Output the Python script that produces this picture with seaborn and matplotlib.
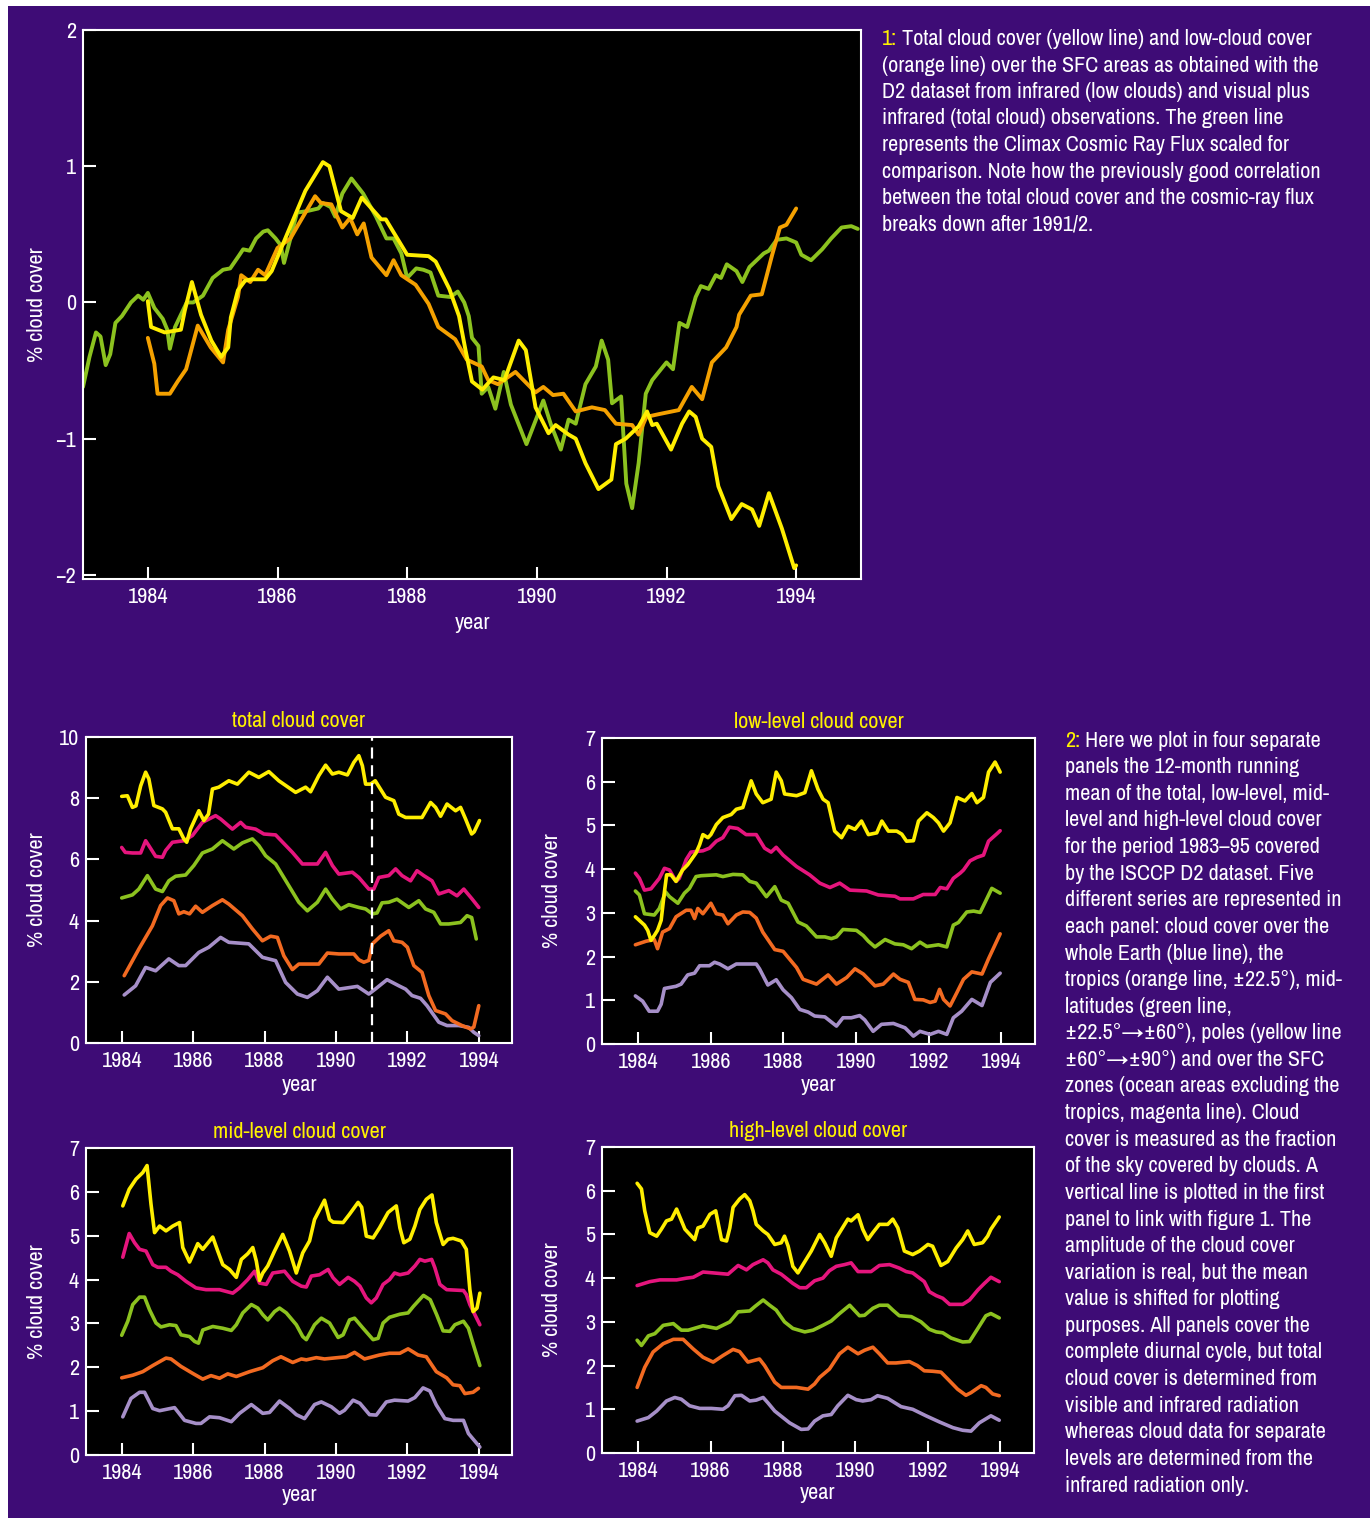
import matplotlib
matplotlib.use("Agg")
import matplotlib.pyplot as plt
from matplotlib.patches import Rectangle
import pandas as pd
import seaborn as sns

# --- figure 1: deviations (% cloud cover), pairs of (year, value) ---
cosmic_flux = [(1983.0, -0.62), (1983.1, -0.4), (1983.2, -0.22), (1983.27, -0.25), (1983.35, -0.46),
               (1983.42, -0.38), (1983.5, -0.15), (1983.6, -0.1), (1983.74, 0.0), (1983.85, 0.05),
               (1983.93, 0.02), (1984.0, 0.07), (1984.1, -0.04), (1984.23, -0.12), (1984.3, -0.2),
               (1984.34, -0.34), (1984.42, -0.18), (1984.6, 0.0), (1984.7, 0.0), (1984.85, 0.05),
               (1985.0, 0.18), (1985.16, 0.24), (1985.27, 0.25), (1985.4, 0.34), (1985.47, 0.39),
               (1985.57, 0.38), (1985.67, 0.47), (1985.78, 0.52), (1985.85, 0.53), (1985.97, 0.47),
               (1986.05, 0.42), (1986.1, 0.29), (1986.2, 0.47), (1986.3, 0.66), (1986.45, 0.67),
               (1986.63, 0.69), (1986.7, 0.73), (1986.82, 0.7), (1986.89, 0.63), (1987.0, 0.8),
               (1987.14, 0.91), (1987.32, 0.8), (1987.52, 0.63), (1987.68, 0.47), (1987.79, 0.47),
               (1987.91, 0.36), (1988.0, 0.18), (1988.14, 0.25), (1988.25, 0.24), (1988.36, 0.22),
               (1988.48, 0.05), (1988.67, 0.04), (1988.78, 0.08), (1988.88, 0.0), (1988.95, -0.1),
               (1989.0, -0.26), (1989.1, -0.32), (1989.15, -0.67), (1989.25, -0.62), (1989.36, -0.78),
               (1989.49, -0.51), (1989.6, -0.75), (1989.84, -1.04), (1990.1, -0.72), (1990.22, -0.9),
               (1990.37, -1.08), (1990.49, -0.86), (1990.6, -0.89), (1990.75, -0.6), (1990.91, -0.47),
               (1991.0, -0.28), (1991.1, -0.42), (1991.16, -0.74), (1991.3, -0.69), (1991.38, -1.33),
               (1991.47, -1.51), (1991.57, -1.18), (1991.68, -0.67), (1991.78, -0.57), (1992.0, -0.44),
               (1992.1, -0.49), (1992.2, -0.15), (1992.32, -0.18), (1992.45, 0.04), (1992.53, 0.12),
               (1992.65, 0.1), (1992.76, 0.2), (1992.84, 0.18), (1992.93, 0.28), (1993.08, 0.23),
               (1993.17, 0.15), (1993.28, 0.26), (1993.5, 0.36), (1993.58, 0.38), (1993.7, 0.46),
               (1993.85, 0.47), (1994.0, 0.44), (1994.08, 0.35), (1994.23, 0.31), (1994.4, 0.39),
               (1994.54, 0.47), (1994.7, 0.55), (1994.85, 0.56), (1994.95, 0.54)]

low_cloud = [(1984.0, -0.26), (1984.1, -0.45), (1984.15, -0.67), (1984.34, -0.67), (1984.46, -0.58),
             (1984.59, -0.49), (1984.77, -0.17), (1984.97, -0.33), (1985.16, -0.44), (1985.24, -0.2),
             (1985.39, 0.04), (1985.44, 0.2), (1985.58, 0.15), (1985.7, 0.24), (1985.81, 0.2),
             (1986.0, 0.4), (1986.2, 0.47), (1986.32, 0.57), (1986.58, 0.78), (1986.67, 0.73),
             (1986.83, 0.72), (1987.0, 0.55), (1987.12, 0.62), (1987.23, 0.5), (1987.33, 0.58),
             (1987.45, 0.33), (1987.68, 0.2), (1987.79, 0.31), (1987.91, 0.2), (1988.13, 0.13),
             (1988.33, -0.01), (1988.48, -0.18), (1988.74, -0.27), (1988.92, -0.42), (1989.15, -0.47),
             (1989.25, -0.57), (1989.4, -0.6), (1989.67, -0.51), (1989.98, -0.66), (1990.1, -0.62),
             (1990.25, -0.68), (1990.41, -0.67), (1990.6, -0.8), (1990.85, -0.77), (1991.05, -0.79),
             (1991.22, -0.89), (1991.47, -0.9), (1991.57, -0.97), (1991.69, -0.84), (1991.88, -0.82),
             (1992.19, -0.79), (1992.39, -0.62), (1992.55, -0.71), (1992.7, -0.44), (1992.92, -0.33),
             (1993.08, -0.18), (1993.12, -0.09), (1993.3, 0.05), (1993.47, 0.06), (1993.63, 0.35),
             (1993.75, 0.55), (1993.85, 0.57), (1994.0, 0.69)]

total_cloud = [(1984.0, 0.01), (1984.05, -0.18), (1984.26, -0.22), (1984.51, -0.2), (1984.57, -0.06),
               (1984.68, 0.15), (1984.82, -0.09), (1984.98, -0.28), (1985.13, -0.4), (1985.24, -0.33),
               (1985.28, -0.11), (1985.39, 0.09), (1985.5, 0.16), (1985.6, 0.17), (1985.81, 0.17),
               (1985.91, 0.23), (1986.12, 0.47), (1986.43, 0.82), (1986.7, 1.03), (1986.8, 1.0),
               (1986.98, 0.67), (1987.16, 0.62), (1987.3, 0.77), (1987.6, 0.61), (1987.67, 0.61),
               (1988.0, 0.35), (1988.33, 0.34), (1988.44, 0.3), (1988.65, 0.1), (1988.8, -0.1),
               (1988.9, -0.35), (1989.0, -0.58), (1989.16, -0.64), (1989.33, -0.55), (1989.5, -0.57),
               (1989.72, -0.28), (1989.83, -0.35), (1989.98, -0.77), (1990.18, -0.96), (1990.29, -0.9),
               (1990.49, -0.97), (1990.6, -1.0), (1990.75, -1.18), (1990.95, -1.37), (1991.15, -1.3),
               (1991.22, -1.04), (1991.37, -1.0), (1991.57, -0.91), (1991.7, -0.8), (1991.78, -0.9),
               (1991.85, -0.89), (1992.07, -1.08), (1992.24, -0.89), (1992.35, -0.8), (1992.45, -0.84),
               (1992.55, -1.0), (1992.69, -1.06), (1992.8, -1.35), (1993.0, -1.59), (1993.16, -1.48),
               (1993.32, -1.52), (1993.43, -1.64), (1993.58, -1.4), (1993.78, -1.66), (1993.97, -1.95),
               (1994.0, -1.93)]

# --- figure 2: 12-month running means, one list per region ---
total_earth = [(1984.07, 1.57), (1984.39, 1.87), (1984.67, 2.47), (1984.95, 2.36), (1985.32, 2.75),
               (1985.6, 2.53), (1985.79, 2.53), (1986.16, 2.96), (1986.44, 3.13), (1986.77, 3.45),
               (1987.0, 3.29), (1987.56, 3.24), (1987.94, 2.8), (1988.31, 2.69), (1988.59, 1.98),
               (1988.92, 1.6), (1989.2, 1.49), (1989.48, 1.71), (1989.76, 2.15), (1990.08, 1.76),
               (1990.6, 1.85), (1990.92, 1.6), (1991.1, 1.76), (1991.43, 2.07), (1991.76, 1.87),
               (1991.95, 1.76), (1992.13, 1.55), (1992.37, 1.46), (1992.55, 1.22), (1992.88, 0.68),
               (1993.11, 0.57), (1993.44, 0.57), (1993.72, 0.51), (1993.86, 0.35), (1994.0, 0.24)]
total_tropics = [(1984.07, 2.2), (1984.48, 3.07), (1984.86, 3.83), (1985.09, 4.49), (1985.28, 4.74),
                 (1985.46, 4.65), (1985.6, 4.22), (1985.74, 4.29), (1985.9, 4.22), (1986.07, 4.47),
                 (1986.26, 4.27), (1986.54, 4.49), (1986.82, 4.68), (1987.0, 4.54), (1987.38, 4.16),
                 (1987.66, 3.73), (1987.94, 3.34), (1988.17, 3.49), (1988.36, 3.45), (1988.54, 2.85),
                 (1988.78, 2.4), (1988.96, 2.58), (1989.52, 2.58), (1989.76, 2.94), (1990.08, 2.91),
                 (1990.5, 2.91), (1990.64, 2.72), (1990.78, 2.64), (1990.92, 2.7), (1991.02, 3.24),
                 (1991.25, 3.49), (1991.48, 3.67), (1991.62, 3.34), (1991.85, 3.29), (1992.0, 3.13),
                 (1992.18, 2.53), (1992.41, 2.31), (1992.6, 1.55), (1992.79, 1.06), (1993.07, 0.95),
                 (1993.25, 0.73), (1993.53, 0.57), (1993.77, 0.46), (1993.86, 0.52), (1994.0, 1.22)]
total_midlat = [(1984.0, 4.74), (1984.3, 4.84), (1984.48, 5.03), (1984.72, 5.47), (1984.95, 5.03),
                (1985.14, 4.95), (1985.32, 5.3), (1985.51, 5.45), (1985.79, 5.49), (1986.02, 5.8),
                (1986.26, 6.21), (1986.54, 6.34), (1986.82, 6.61), (1987.14, 6.34), (1987.38, 6.54),
                (1987.66, 6.67), (1987.84, 6.45), (1988.03, 6.12), (1988.31, 5.85), (1988.68, 5.14),
                (1988.96, 4.6), (1989.2, 4.32), (1989.48, 4.6), (1989.71, 5.03), (1989.9, 4.7),
                (1990.13, 4.38), (1990.36, 4.52), (1990.64, 4.43), (1990.83, 4.38), (1991.02, 4.22),
                (1991.15, 4.25), (1991.29, 4.58), (1991.48, 4.6), (1991.71, 4.7), (1992.04, 4.43),
                (1992.32, 4.65), (1992.51, 4.38), (1992.74, 4.27), (1992.93, 3.89), (1993.16, 3.89),
                (1993.49, 3.94), (1993.67, 4.16), (1993.8, 4.1), (1993.93, 3.4)]
total_sfc = [(1984.0, 6.39), (1984.1, 6.23), (1984.3, 6.21), (1984.53, 6.21), (1984.67, 6.61),
             (1984.76, 6.45), (1984.95, 6.1), (1985.14, 6.07), (1985.23, 6.29), (1985.42, 6.56),
             (1985.74, 6.61), (1985.98, 6.78), (1986.26, 7.21), (1986.63, 7.43), (1986.77, 7.32),
             (1987.1, 6.99), (1987.33, 7.21), (1987.47, 7.05), (1987.75, 6.99), (1987.98, 6.83),
             (1988.31, 6.8), (1988.78, 6.23), (1989.06, 5.85), (1989.48, 5.85), (1989.71, 6.23),
             (1989.9, 5.8), (1990.08, 5.52), (1990.46, 5.58), (1990.64, 5.41), (1990.92, 5.03),
             (1991.06, 5.03), (1991.2, 5.41), (1991.48, 5.47), (1991.67, 5.69), (1991.85, 5.47),
             (1992.09, 5.3), (1992.27, 5.63), (1992.46, 5.47), (1992.69, 5.3), (1992.88, 4.87),
             (1993.16, 4.98), (1993.39, 4.81), (1993.58, 5.03), (1993.81, 4.71), (1994.0, 4.43)]
total_poles = [(1984.0, 8.06), (1984.16, 8.08), (1984.3, 7.7), (1984.4, 7.75), (1984.53, 8.4),
               (1984.67, 8.85), (1984.76, 8.63), (1984.9, 7.76), (1985.14, 7.65), (1985.23, 7.54),
               (1985.42, 7.0), (1985.6, 7.0), (1985.74, 6.67), (1985.82, 6.56), (1985.93, 7.0),
               (1986.16, 7.59), (1986.3, 7.27), (1986.43, 7.48), (1986.54, 8.3), (1986.72, 8.36),
               (1987.0, 8.57), (1987.24, 8.46), (1987.56, 8.85), (1987.84, 8.68), (1988.12, 8.87),
               (1988.4, 8.57), (1988.87, 8.19), (1989.15, 8.36), (1989.29, 8.21), (1989.52, 8.74),
               (1989.71, 9.08), (1989.9, 8.79), (1990.08, 8.85), (1990.32, 8.76), (1990.5, 9.17),
               (1990.64, 9.39), (1990.74, 9.06), (1990.83, 8.46), (1990.97, 8.46), (1991.1, 8.57),
               (1991.39, 8.03), (1991.62, 7.92), (1991.76, 7.48), (1991.95, 7.37), (1992.41, 7.37),
               (1992.65, 7.86), (1992.79, 7.7), (1992.93, 7.41), (1993.11, 7.81), (1993.35, 7.59),
               (1993.49, 7.7), (1993.63, 7.32), (1993.8, 6.83), (1993.87, 6.9), (1994.02, 7.27)]

low_earth = [(1983.92, 1.1), (1984.12, 0.98), (1984.3, 0.75), (1984.53, 0.75), (1984.63, 0.91),
             (1984.72, 1.27), (1985.04, 1.32), (1985.18, 1.37), (1985.36, 1.58), (1985.55, 1.62),
             (1985.69, 1.79), (1985.96, 1.79), (1986.1, 1.87), (1986.24, 1.83), (1986.47, 1.72),
             (1986.7, 1.83), (1987.25, 1.83), (1987.34, 1.72), (1987.57, 1.35), (1987.8, 1.47),
             (1987.99, 1.24), (1988.22, 1.06), (1988.45, 0.79), (1988.68, 0.73), (1988.86, 0.64),
             (1989.14, 0.62), (1989.46, 0.41), (1989.64, 0.6), (1989.87, 0.6), (1990.1, 0.65),
             (1990.24, 0.55), (1990.47, 0.29), (1990.7, 0.45), (1991.03, 0.47), (1991.35, 0.37),
             (1991.58, 0.18), (1991.76, 0.29), (1992.04, 0.22), (1992.27, 0.29), (1992.5, 0.22),
             (1992.68, 0.6), (1992.91, 0.75), (1993.19, 1.02), (1993.47, 0.88), (1993.7, 1.41),
             (1993.97, 1.62)]
low_tropics = [(1983.92, 2.27), (1984.21, 2.35), (1984.44, 2.39), (1984.53, 2.18), (1984.67, 2.56),
               (1984.86, 2.64), (1985.04, 2.91), (1985.32, 3.06), (1985.45, 3.06), (1985.55, 2.87),
               (1985.64, 3.1), (1985.78, 2.98), (1986.0, 3.22), (1986.15, 2.98), (1986.33, 2.95),
               (1986.47, 2.75), (1986.7, 2.95), (1986.88, 3.02), (1987.07, 3.01), (1987.25, 2.88),
               (1987.43, 2.56), (1987.76, 2.16), (1987.99, 2.12), (1988.36, 1.75), (1988.54, 1.48),
               (1988.91, 1.37), (1989.23, 1.58), (1989.46, 1.37), (1989.74, 1.52), (1989.97, 1.72),
               (1990.2, 1.6), (1990.52, 1.33), (1990.75, 1.37), (1991.03, 1.6), (1991.21, 1.48),
               (1991.44, 1.41), (1991.62, 1.02), (1991.85, 1.01), (1992.04, 0.95), (1992.18, 0.98),
               (1992.3, 1.25), (1992.41, 1.02), (1992.59, 0.87), (1992.78, 1.18), (1992.96, 1.48),
               (1993.19, 1.65), (1993.47, 1.6), (1993.65, 1.95), (1993.97, 2.52)]
low_midlat = [(1983.92, 3.5), (1984.03, 3.41), (1984.17, 2.98), (1984.44, 2.95), (1984.58, 3.1),
              (1984.75, 3.48), (1984.86, 3.37), (1985.09, 3.22), (1985.27, 3.45), (1985.41, 3.56),
              (1985.59, 3.83), (1985.73, 3.85), (1986.15, 3.87), (1986.33, 3.83), (1986.61, 3.88),
              (1986.88, 3.87), (1987.07, 3.72), (1987.25, 3.68), (1987.53, 3.37), (1987.76, 3.6),
              (1987.94, 3.29), (1988.13, 3.22), (1988.4, 2.79), (1988.63, 2.7), (1988.91, 2.45),
              (1989.14, 2.45), (1989.32, 2.41), (1989.46, 2.45), (1989.64, 2.62), (1990.01, 2.6),
              (1990.2, 2.48), (1990.34, 2.35), (1990.52, 2.22), (1990.8, 2.39), (1991.07, 2.29),
              (1991.3, 2.27), (1991.53, 2.18), (1991.76, 2.33), (1991.95, 2.23), (1992.27, 2.27),
              (1992.5, 2.22), (1992.68, 2.72), (1992.82, 2.78), (1993.05, 3.02), (1993.24, 3.04),
              (1993.42, 3.01), (1993.56, 3.25), (1993.74, 3.56), (1993.97, 3.45)]
low_sfc = [(1983.92, 3.91), (1984.03, 3.79), (1984.17, 3.52), (1984.35, 3.55), (1984.58, 3.79),
           (1984.72, 4.02), (1984.86, 3.98), (1985.04, 3.72), (1985.13, 3.79), (1985.32, 4.22),
           (1985.45, 4.39), (1985.78, 4.42), (1985.96, 4.48), (1986.15, 4.64), (1986.33, 4.72),
           (1986.51, 4.96), (1986.74, 4.93), (1986.97, 4.79), (1987.25, 4.79), (1987.48, 4.48),
           (1987.66, 4.39), (1987.8, 4.5), (1987.99, 4.32), (1988.36, 4.06), (1988.72, 3.87),
           (1989.0, 3.68), (1989.28, 3.58), (1989.55, 3.68), (1989.83, 3.52), (1990.29, 3.5),
           (1990.61, 3.41), (1991.07, 3.38), (1991.21, 3.32), (1991.58, 3.32), (1991.85, 3.42),
           (1992.18, 3.42), (1992.32, 3.58), (1992.5, 3.55), (1992.68, 3.79), (1992.87, 3.91),
           (1992.96, 3.98), (1993.14, 4.19), (1993.33, 4.27), (1993.51, 4.32), (1993.65, 4.64),
           (1993.88, 4.81), (1993.97, 4.88)]
low_poles = [(1983.92, 2.91), (1984.17, 2.72), (1984.26, 2.6), (1984.35, 2.37), (1984.44, 2.48),
             (1984.53, 2.6), (1984.63, 2.83), (1984.72, 3.48), (1984.78, 3.87), (1984.9, 3.87),
             (1985.04, 3.72), (1985.22, 3.98), (1985.36, 4.1), (1985.59, 4.37), (1985.69, 4.56),
             (1985.78, 4.79), (1985.92, 4.72), (1986.0, 4.79), (1986.15, 5.02), (1986.33, 5.18),
             (1986.56, 5.25), (1986.7, 5.37), (1986.88, 5.41), (1987.11, 6.02), (1987.25, 5.72),
             (1987.43, 5.52), (1987.66, 5.6), (1987.8, 6.22), (1987.94, 6.02), (1988.03, 5.72),
             (1988.36, 5.68), (1988.59, 5.75), (1988.77, 6.25), (1988.95, 5.83), (1989.09, 5.6),
             (1989.23, 5.52), (1989.41, 4.87), (1989.6, 4.72), (1989.78, 4.98), (1989.97, 4.91),
             (1990.15, 5.1), (1990.34, 4.79), (1990.57, 4.83), (1990.71, 5.1), (1990.89, 4.87),
             (1991.12, 4.87), (1991.26, 4.8), (1991.39, 4.64), (1991.58, 4.65), (1991.72, 5.1),
             (1991.95, 5.29), (1992.13, 5.18), (1992.27, 5.06), (1992.41, 4.87), (1992.59, 5.06),
             (1992.78, 5.64), (1993.0, 5.56), (1993.19, 5.73), (1993.33, 5.52), (1993.51, 5.64),
             (1993.65, 6.22), (1993.83, 6.45), (1993.97, 6.22)]

mid_earth = [(1984.03, 0.87), (1984.26, 1.29), (1984.5, 1.43), (1984.64, 1.43), (1984.87, 1.06),
             (1985.06, 1.01), (1985.48, 1.08), (1985.76, 0.79), (1986.08, 0.72), (1986.22, 0.72),
             (1986.46, 0.87), (1986.74, 0.85), (1987.07, 0.76), (1987.3, 0.95), (1987.63, 1.15),
             (1987.95, 0.95), (1988.14, 0.97), (1988.42, 1.23), (1988.7, 1.06), (1988.89, 0.92),
             (1989.12, 0.83), (1989.4, 1.15), (1989.59, 1.21), (1989.87, 1.1), (1990.1, 0.95),
             (1990.24, 1.02), (1990.48, 1.25), (1990.67, 1.18), (1990.94, 0.92), (1991.13, 0.91),
             (1991.41, 1.21), (1991.64, 1.25), (1992.02, 1.23), (1992.21, 1.31), (1992.44, 1.53),
             (1992.63, 1.46), (1992.81, 1.14), (1993.05, 0.83), (1993.28, 0.79), (1993.57, 0.79),
             (1993.71, 0.49), (1994.03, 0.18)]
mid_tropics = [(1984.0, 1.76), (1984.31, 1.82), (1984.59, 1.9), (1984.87, 2.04), (1985.24, 2.21),
               (1985.38, 2.19), (1985.66, 2.02), (1985.99, 1.86), (1986.27, 1.73), (1986.5, 1.81),
               (1986.74, 1.75), (1986.97, 1.85), (1987.21, 1.79), (1987.58, 1.9), (1987.95, 1.99),
               (1988.23, 2.15), (1988.46, 2.24), (1988.79, 2.11), (1989.03, 2.19), (1989.17, 2.17),
               (1989.45, 2.22), (1989.68, 2.19), (1990.29, 2.24), (1990.52, 2.34), (1990.8, 2.19),
               (1991.22, 2.28), (1991.5, 2.32), (1991.79, 2.32), (1992.02, 2.42), (1992.3, 2.28),
               (1992.53, 2.24), (1992.81, 1.9), (1993.1, 1.76), (1993.28, 1.6), (1993.47, 1.58),
               (1993.61, 1.4), (1993.84, 1.43), (1993.99, 1.52)]
mid_midlat = [(1984.0, 2.73), (1984.17, 3.05), (1984.31, 3.43), (1984.5, 3.6), (1984.64, 3.6),
              (1984.78, 3.31), (1984.96, 3.01), (1985.1, 2.92), (1985.34, 2.97), (1985.52, 2.95),
              (1985.66, 2.74), (1985.9, 2.7), (1986.04, 2.59), (1986.15, 2.55), (1986.27, 2.85),
              (1986.55, 2.93), (1986.83, 2.89), (1987.07, 2.84), (1987.21, 2.97), (1987.39, 3.24),
              (1987.63, 3.43), (1987.81, 3.35), (1987.95, 3.2), (1988.09, 3.08), (1988.28, 3.27),
              (1988.42, 3.35), (1988.61, 3.24), (1988.89, 2.97), (1989.07, 2.7), (1989.17, 2.63),
              (1989.4, 2.97), (1989.59, 3.12), (1989.82, 3.01), (1990.06, 2.68), (1990.2, 2.74),
              (1990.38, 3.08), (1990.52, 3.12), (1990.76, 2.89), (1991.04, 2.63), (1991.18, 2.66),
              (1991.32, 3.01), (1991.5, 3.14), (1991.79, 3.21), (1992.02, 3.24), (1992.17, 3.39),
              (1992.45, 3.64), (1992.64, 3.54), (1992.82, 3.2), (1993.0, 2.83), (1993.19, 2.82),
              (1993.33, 2.97), (1993.57, 3.05), (1993.71, 2.89), (1993.85, 2.51), (1994.03, 2.04)]
mid_sfc = [(1984.03, 4.51), (1984.21, 5.05), (1984.36, 4.84), (1984.5, 4.69), (1984.68, 4.65),
           (1984.87, 4.34), (1985.01, 4.28), (1985.24, 4.28), (1985.38, 4.19), (1985.57, 4.11),
           (1985.8, 3.96), (1986.08, 3.81), (1986.36, 3.77), (1986.74, 3.77), (1987.11, 3.69),
           (1987.3, 3.81), (1987.53, 4.0), (1987.72, 4.19), (1987.86, 3.92), (1988.05, 3.89),
           (1988.23, 4.15), (1988.56, 4.19), (1988.79, 3.96), (1989.03, 3.85), (1989.17, 3.83),
           (1989.31, 4.08), (1989.54, 4.11), (1989.78, 4.23), (1989.92, 4.04), (1990.1, 3.89),
           (1990.34, 4.05), (1990.52, 3.96), (1990.67, 3.85), (1990.85, 3.58), (1990.99, 3.47),
           (1991.13, 3.58), (1991.32, 3.89), (1991.5, 4.0), (1991.64, 4.15), (1991.79, 4.11),
           (1992.02, 4.15), (1992.21, 4.31), (1992.35, 4.46), (1992.49, 4.42), (1992.68, 4.46),
           (1992.77, 4.27), (1992.91, 3.89), (1993.1, 3.77), (1993.57, 3.75), (1993.65, 3.66),
           (1993.75, 3.43), (1994.03, 2.97)]
mid_poles = [(1984.03, 5.68), (1984.21, 6.06), (1984.4, 6.29), (1984.59, 6.44), (1984.71, 6.6),
             (1984.82, 5.72), (1984.92, 5.07), (1985.06, 5.22), (1985.24, 5.11), (1985.43, 5.22),
             (1985.62, 5.3), (1985.71, 4.73), (1985.9, 4.4), (1986.04, 4.65), (1986.13, 4.82),
             (1986.27, 4.69), (1986.55, 4.97), (1986.69, 4.65), (1986.83, 4.34), (1987.02, 4.23),
             (1987.21, 4.05), (1987.35, 4.46), (1987.53, 4.59), (1987.67, 4.73), (1987.77, 4.42),
             (1987.86, 3.98), (1987.95, 4.15), (1988.09, 4.31), (1988.28, 4.65), (1988.51, 5.03),
             (1988.7, 4.65), (1988.89, 4.15), (1989.07, 4.61), (1989.26, 4.88), (1989.4, 5.37),
             (1989.68, 5.81), (1989.82, 5.37), (1989.92, 5.31), (1990.2, 5.3), (1990.38, 5.49),
             (1990.62, 5.76), (1990.72, 5.65), (1990.85, 4.99), (1991.04, 4.95), (1991.22, 5.18),
             (1991.46, 5.53), (1991.69, 5.68), (1991.79, 5.18), (1991.9, 4.84), (1992.07, 4.92),
             (1992.21, 5.22), (1992.35, 5.6), (1992.53, 5.83), (1992.69, 5.93), (1992.81, 5.3),
             (1993.0, 4.8), (1993.14, 4.92), (1993.28, 4.94), (1993.51, 4.88), (1993.65, 4.69),
             (1993.75, 3.77), (1993.84, 3.27), (1993.95, 3.35), (1994.03, 3.69)]

high_earth = [(1983.97, 0.73), (1984.28, 0.81), (1984.51, 0.96), (1984.78, 1.19), (1985.01, 1.27),
              (1985.19, 1.23), (1985.42, 1.08), (1985.7, 1.02), (1986.02, 1.02), (1986.34, 1.0),
              (1986.48, 1.08), (1986.67, 1.31), (1986.85, 1.32), (1987.08, 1.19), (1987.26, 1.21),
              (1987.45, 1.27), (1987.58, 1.15), (1987.77, 0.96), (1988.18, 0.69), (1988.5, 0.54),
              (1988.69, 0.55), (1988.87, 0.73), (1989.1, 0.85), (1989.33, 0.88), (1989.51, 1.08),
              (1989.79, 1.32), (1990.02, 1.22), (1990.2, 1.19), (1990.43, 1.22), (1990.61, 1.31),
              (1990.89, 1.25), (1991.26, 1.06), (1991.58, 1.0), (1991.95, 0.85), (1992.32, 0.71),
              (1992.69, 0.58), (1992.96, 0.52), (1993.19, 0.5), (1993.42, 0.69), (1993.74, 0.85),
              (1993.97, 0.75)]
high_tropics = [(1983.97, 1.5), (1984.18, 1.96), (1984.41, 2.31), (1984.69, 2.5), (1984.97, 2.6),
                (1985.24, 2.6), (1985.52, 2.38), (1985.79, 2.19), (1986.07, 2.08), (1986.34, 2.23),
                (1986.62, 2.37), (1986.8, 2.32), (1987.03, 2.08), (1987.35, 2.15), (1987.49, 2.0),
                (1987.77, 1.62), (1987.95, 1.5), (1988.37, 1.5), (1988.69, 1.46), (1988.87, 1.58),
                (1989.01, 1.73), (1989.28, 1.92), (1989.56, 2.27), (1989.79, 2.42), (1990.07, 2.27),
                (1990.25, 2.35), (1990.48, 2.42), (1990.66, 2.27), (1990.89, 2.06), (1991.12, 2.06),
                (1991.49, 2.09), (1991.71, 2.0), (1991.9, 1.88), (1992.13, 1.87), (1992.36, 1.85),
                (1992.55, 1.69), (1992.82, 1.46), (1993.05, 1.32), (1993.19, 1.38), (1993.47, 1.54),
                (1993.6, 1.5), (1993.79, 1.35), (1993.97, 1.31)]
high_midlat = [(1983.97, 2.58), (1984.09, 2.46), (1984.28, 2.68), (1984.46, 2.73), (1984.69, 2.92),
               (1984.97, 2.96), (1985.19, 2.81), (1985.38, 2.81), (1985.79, 2.91), (1986.16, 2.85),
               (1986.53, 3.0), (1986.76, 3.23), (1987.08, 3.25), (1987.22, 3.35), (1987.45, 3.5),
               (1987.63, 3.38), (1987.81, 3.27), (1988.04, 3.0), (1988.27, 2.85), (1988.6, 2.77),
               (1988.83, 2.81), (1989.1, 2.92), (1989.33, 3.02), (1989.56, 3.19), (1989.84, 3.38),
               (1990.11, 3.14), (1990.25, 3.15), (1990.48, 3.31), (1990.66, 3.38), (1990.89, 3.38),
               (1991.03, 3.27), (1991.21, 3.14), (1991.54, 3.12), (1991.81, 3.0), (1992.04, 2.83),
               (1992.23, 2.77), (1992.41, 2.75), (1992.64, 2.63), (1992.96, 2.54), (1993.15, 2.55),
               (1993.38, 2.85), (1993.6, 3.14), (1993.74, 3.19), (1993.97, 3.09)]
high_sfc = [(1983.97, 3.83), (1984.32, 3.92), (1984.6, 3.96), (1985.06, 3.96), (1985.33, 4.0),
            (1985.52, 4.02), (1985.79, 4.14), (1986.07, 4.12), (1986.48, 4.09), (1986.76, 4.29),
            (1986.99, 4.19), (1987.17, 4.31), (1987.45, 4.42), (1987.58, 4.35), (1987.72, 4.19),
            (1987.95, 4.09), (1988.27, 3.88), (1988.46, 3.78), (1988.64, 3.78), (1988.87, 3.94),
            (1989.1, 4.0), (1989.28, 4.17), (1989.47, 4.27), (1989.7, 4.31), (1989.88, 4.35),
            (1990.07, 4.15), (1990.43, 4.15), (1990.66, 4.29), (1990.94, 4.31), (1991.21, 4.23),
            (1991.4, 4.15), (1991.58, 4.12), (1991.9, 3.92), (1992.04, 3.69), (1992.23, 3.6),
            (1992.41, 3.54), (1992.6, 3.4), (1992.96, 3.4), (1993.15, 3.5), (1993.38, 3.73),
            (1993.56, 3.88), (1993.74, 4.02), (1993.97, 3.92)]
high_poles = [(1983.97, 6.17), (1984.09, 6.04), (1984.18, 5.54), (1984.32, 5.04), (1984.51, 4.96),
              (1984.64, 5.12), (1984.78, 5.31), (1984.92, 5.35), (1985.06, 5.58), (1985.29, 5.12),
              (1985.56, 4.88), (1985.65, 5.15), (1985.79, 5.19), (1985.98, 5.46), (1986.14, 5.54),
              (1986.3, 4.88), (1986.44, 4.85), (1986.53, 5.15), (1986.62, 5.62), (1986.8, 5.81),
              (1986.94, 5.91), (1987.08, 5.77), (1987.17, 5.54), (1987.26, 5.23), (1987.45, 5.08),
              (1987.58, 5.0), (1987.77, 4.77), (1987.95, 4.81), (1988.04, 4.96), (1988.14, 4.73),
              (1988.27, 4.27), (1988.41, 4.12), (1988.55, 4.31), (1988.78, 4.62), (1989.01, 5.0),
              (1989.15, 4.81), (1989.33, 4.5), (1989.47, 4.92), (1989.7, 5.23), (1989.79, 5.35),
              (1989.88, 5.31), (1990.07, 5.45), (1990.2, 5.12), (1990.34, 4.88), (1990.48, 5.04),
              (1990.66, 5.23), (1990.89, 5.23), (1991.03, 5.35), (1991.17, 5.15), (1991.35, 4.62),
              (1991.58, 4.54), (1991.77, 4.62), (1992.0, 4.77), (1992.13, 4.73), (1992.36, 4.29),
              (1992.55, 4.38), (1992.78, 4.69), (1992.96, 4.88), (1993.1, 5.08), (1993.28, 4.77),
              (1993.51, 4.81), (1993.65, 4.96), (1993.74, 5.12), (1993.97, 5.4)]

year_ticks = [1984, 1986, 1988, 1990, 1992, 1994]
link_year = 1991  # dashed line in the first panel

caption1 = ["1: Total cloud cover (yellow line) and low-cloud cover",
            "(orange line) over the SFC areas as obtained with the",
            "D2 dataset from infrared (low clouds) and visual plus",
            "infrared (total cloud) observations. The green line",
            "represents the Climax Cosmic Ray Flux scaled for",
            "comparison. Note how the previously good correlation",
            "between the total cloud cover and the cosmic-ray flux",
            "breaks down after 1991/2."]
caption2 = ["2: Here we plot in four separate",
            "panels the 12-month running",
            "mean of the total, low-level, mid-",
            "level and high-level cloud cover",
            "for the period 1983–95 covered",
            "by the ISCCP D2 dataset. Five",
            "different series are represented in",
            "each panel: cloud cover over the",
            "whole Earth (blue line), the",
            "tropics (orange line, ±22.5°), mid-",
            "latitudes (green line,",
            "±22.5°→±60°), poles (yellow line",
            "±60°→±90°) and over the SFC",
            "zones (ocean areas excluding the",
            "tropics, magenta line). Cloud",
            "cover is measured as the fraction",
            "of the sky covered by clouds. A",
            "vertical line is plotted in the first",
            "panel to link with figure 1. The",
            "amplitude of the cloud cover",
            "variation is real, but the mean",
            "value is shifted for plotting",
            "purposes. All panels cover the",
            "complete diurnal cycle, but total",
            "cloud cover is determined from",
            "visible and infrared radiation",
            "whereas cloud data for separate",
            "levels are determined from the",
            "infrared radiation only."]

PURPLE = "#3e0c76"
YELLOW = "#fff200"
W, H = 1370, 1518
FS = 16      # tick labels
LFS = 16     # axis labels and titles
CFS = 16     # captions

sns.set_theme(style="dark")
plt.rcParams["font.family"] = ["Archivo Narrow", "Roboto Condensed", "DejaVu Sans"]
plt.rcParams["axes.unicode_minus"] = True


def to_frame(series):
    rows = []
    for name, pts in series.items():
        for yr, v in pts:
            rows.append({"year": yr, "cover": v, "series": name})
    return pd.DataFrame(rows)


def style_axes(ax, xlim, ylim, yticks, ylab_x, xlab_y):
    ax.set_facecolor("black")
    ax.set_xlim(*xlim)
    ax.set_ylim(*ylim)
    ax.set_xticks(year_ticks)
    ax.set_yticks(yticks)
    ax.grid(False)
    for s in ax.spines.values():
        s.set_visible(True)
        s.set_color("white")
        s.set_linewidth(1.5)
    ax.tick_params(axis="both", direction="in", colors="white", length=9, width=1.5,
                   labelsize=FS, bottom=True, left=True, top=False, right=False)
    ax.tick_params(axis="x", pad=6)
    ax.tick_params(axis="y", pad=5)
    ax.set_xlabel("year", color="white", fontsize=LFS)
    ax.set_ylabel("% cloud cover", color="white", fontsize=LFS)
    ax.yaxis.set_label_coords(ylab_x, 0.5)
    ax.xaxis.set_label_coords(0.5, xlab_y)


def px_rect(left, top, right, bottom):
    return [left / W, 1 - bottom / H, (right - left) / W, (bottom - top) / H]


fig = plt.figure(figsize=(W / 100, H / 100), dpi=100, facecolor="white")
fig.add_artist(Rectangle((8 / W, 0), 1 - 8 / W, 1 - 6 / H, transform=fig.transFigure,
                         facecolor=PURPLE, edgecolor="none", zorder=-10))

# figure 1
ax1 = fig.add_axes(px_rect(83, 30, 861, 579))
df1 = to_frame({"flux": cosmic_flux, "low": low_cloud, "total": total_cloud})
sns.lineplot(data=df1, x="year", y="cover", hue="series", estimator=None, sort=False,
             palette={"flux": "#8cc21f", "low": "#f5a100", "total": "#ffee00"},
             linewidth=2.8, legend=False, ax=ax1)
style_axes(ax1, (1983, 1995), (-2.03, 2.0), [-2, -1, 0, 1, 2], -0.046, -0.062)

# figure 2 panels
palette2 = {"earth": "#a68fc8", "tropics": "#f26a21", "midlat": "#8cc21f",
            "sfc": "#e5157d", "poles": "#ffee00"}
panels = [
    ("total cloud cover", (86, 737, 512, 1043), (0, 10), [0, 2, 4, 6, 8, 10],
     {"earth": total_earth, "tropics": total_tropics, "midlat": total_midlat,
      "sfc": total_sfc, "poles": total_poles}, -0.105),
    ("low-level cloud cover", (602, 738, 1035, 1044), (0, 7), list(range(8)),
     {"earth": low_earth, "tropics": low_tropics, "midlat": low_midlat,
      "sfc": low_sfc, "poles": low_poles}, -0.101),
    ("mid-level cloud cover", (86, 1148, 512, 1455), (0, 7), list(range(8)),
     {"earth": mid_earth, "tropics": mid_tropics, "midlat": mid_midlat,
      "sfc": mid_sfc, "poles": mid_poles}, -0.098),
    ("high-level cloud cover", (602, 1147, 1034, 1453), (0, 7), list(range(8)),
     {"earth": high_earth, "tropics": high_tropics, "midlat": high_midlat,
      "sfc": high_sfc, "poles": high_poles}, -0.098),
]
for i, (title, box, ylim, yticks, series, xlab_y) in enumerate(panels):
    ax = fig.add_axes(px_rect(*box))
    sns.lineplot(data=to_frame(series), x="year", y="cover", hue="series", estimator=None,
                 sort=False, palette=palette2, linewidth=2.6, legend=False, ax=ax)
    style_axes(ax, (1983, 1994.93), ylim, yticks, -0.092, xlab_y)
    ax.set_title(title, color=YELLOW, fontsize=LFS, pad=7)
    if i == 0:
        ax.axvline(link_year, color="white", linewidth=1.6, linestyle=(0, (5, 3)))


def caption(lines, x_px, base_px, step_px, anchor_ax):
    for i, line in enumerate(lines):
        y = 1 - (base_px + i * step_px) / H
        if i == 0:
            num, rest = line.split(" ", 1)
            t = fig.text(x_px / W, y, num, color=YELLOW, fontsize=CFS, va="baseline")
            anchor_ax.annotate(" " + rest, xy=(1, 0), xycoords=t, va="bottom", ha="left",
                               color="white", fontsize=CFS)
        else:
            fig.text(x_px / W, y, line, color="white", fontsize=CFS, va="baseline")


caption(caption1, 882, 45, 26.5, ax1)
caption(caption2, 1065, 746.7, 26.6, ax1)

fig.savefig("out.png", dpi=100, facecolor=fig.get_facecolor())
